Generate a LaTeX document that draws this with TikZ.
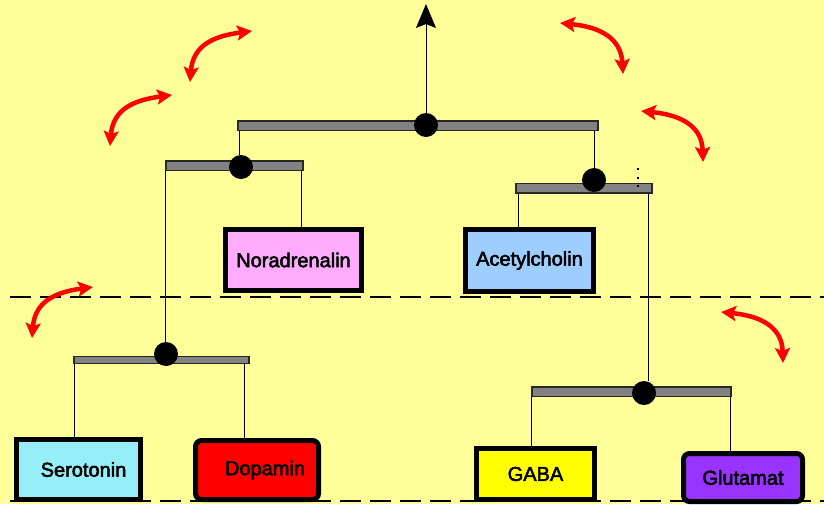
\documentclass[tikz,border=0pt]{standalone}
\usepackage{fontspec}
\setmainfont{Liberation Sans}
\newfontfamily\boxfont[FakeBold=2.5]{Liberation Sans}
\usetikzlibrary{arrows.meta}
\definecolor{bg}{RGB}{255,255,153}
\definecolor{cnor}{RGB}{255,172,255}
\definecolor{cace}{RGB}{158,206,255}
\definecolor{cser}{RGB}{150,238,248}
\definecolor{cdop}{RGB}{255,0,0}
\definecolor{cgaba}{RGB}{255,255,0}
\definecolor{cglu}{RGB}{153,51,255}
\definecolor{cbar}{RGB}{130,130,130}
\definecolor{cbarline}{RGB}{40,40,40}
\tikzset{
  bar/.style={rectangle,draw=cbarline,line width=1.5pt,fill=cbar,inner sep=0pt},
  junct/.style={circle,fill=black,inner sep=0pt,minimum size=24pt},
  tbox/.style={rectangle,draw=black,line width=5pt,inner sep=0pt,
    font=\boxfont\fontsize{20pt}{24pt}\selectfont},
  wire/.style={line width=1pt,black},
  sep/.style={line width=2pt,black,dash pattern=on 21pt off 9pt},
  swing/.style={line width=4.5pt,red,
    {Stealth[length=15pt,width=15pt,inset=3pt]}-{Stealth[length=15pt,width=15pt,inset=3pt]}},
  tick/.style={fill=black,inner sep=0pt,minimum size=2.5pt}
}
\begin{document}
\begin{tikzpicture}[x=1pt,y=-1pt]
\useasboundingbox (0,0) rectangle (824,504);
\fill[bg] (0,0) rectangle (824,504);

% separators
\coordinate (s1a) at (10,297);
\coordinate (s1b) at (824,297);
\coordinate (s2a) at (10,501);
\coordinate (s2b) at (824,501);
\draw[sep] (s1a) -- (s1b);
\draw[sep] (s2a) -- (s2b);

% bars
\node[bar,minimum width=360pt,minimum height=9.5pt] (tb) at (418,125.5) {};
\node[bar,minimum width=137pt,minimum height=9.5pt] (lb) at (234.5,165.5) {};
\node[bar,minimum width=136pt,minimum height=9.5pt] (rb) at (584,188) {};
\node[bar,minimum width=175pt,minimum height=7pt] (llb) at (161.5,360) {};
\node[bar,minimum width=199pt,minimum height=9.5pt] (lrb) at (631.5,391.5) {};

% boxes
\node[tbox,fill=cnor,minimum width=136pt,minimum height=61pt] (nor) at (293.5,260) {\raisebox{-2pt}{Noradrenalin}};
\node[tbox,fill=cace,minimum width=128pt,minimum height=62pt] (ace) at (529.5,260.5) {\raisebox{-1pt}{Acetylcholin}};
\node[tbox,fill=cser,minimum width=124pt,minimum height=60pt] (ser) at (78.5,469.5) {\hspace*{10pt}\raisebox{-2pt}{Serotonin}};
\node[tbox,fill=cdop,rounded corners=6pt,minimum width=123pt,minimum height=59pt] (dop) at (257,470) {\hspace*{16pt}Dopamin};
\node[tbox,fill=cgaba,minimum width=118pt,minimum height=51pt] (gaba) at (535.5,474) {GABA};
\node[tbox,fill=cglu,rounded corners=6pt,minimum width=119pt,minimum height=48pt] (glu) at (743,477.5) {Glutamat};

% junctions
\node[junct] (jt) at (426,125) {};
\node[junct] (jl) at (241,167) {};
\node[junct] (jr) at (594,180) {};
\node[junct] (jll) at (166,354) {};
\node[junct] (jlr) at (644,393) {};

% wires
\coordinate (top) at (426,4);
\draw[wire,-{Stealth[length=24pt,width=20pt,inset=4pt]}] (jt) -- (top);
\draw[wire] ([xshift=-2pt]jl.north) -- ([xshift=-2pt]jl.north |- tb.south);
\draw[wire] (jr.north) -- (jr.north |- tb.south);
\draw[wire] ([xshift=-1pt]jll.north) -- ([xshift=-1pt]jll.north |- lb.south);
\draw[wire] ([xshift=-2pt]lb.south east) -- ([xshift=-2pt]lb.south east |- nor.north);
\draw[wire] ([xshift=3pt]rb.south west) -- ([xshift=3pt]rb.south west |- ace.north);
\draw[wire] ([xshift=-4pt]rb.south east) -- ([xshift=-4pt]rb.south east |- jlr.north);
\draw[wire] ([xshift=1pt]llb.south west) -- ([xshift=1pt]llb.south west |- ser.north);
\draw[wire] ([xshift=-5pt]llb.south east) -- ([xshift=-5pt]llb.south east |- dop.north);
\draw[wire] ([xshift=0.5pt]lrb.south west) -- ([xshift=0.5pt]lrb.south west |- gaba.north);
\draw[wire] ([xshift=-1pt]lrb.south east) -- ([xshift=-1pt]lrb.south east |- glu.north);

% small dots
\node[tick] (d1) at (638,169) {};
\node[tick] (d2) at (638,178) {};
\node[tick] (d3) at (638,186) {};

% red swing arrows
\coordinate (a1) at (190,82);  \coordinate (a2) at (252,31);
\coordinate (b1) at (110,146); \coordinate (b2) at (172,95);
\coordinate (c1) at (560,23);  \coordinate (c2) at (623,74);
\coordinate (e1) at (641,111); \coordinate (e2) at (703,162);
\coordinate (f1) at (32,338);  \coordinate (f2) at (93,287);
\coordinate (g1) at (721,312); \coordinate (g2) at (783,363);
\draw[swing] (a1) .. controls (193,45) and (214,36) .. (a2);
\draw[swing] (b1) .. controls (113,109) and (134,100) .. (b2);
\draw[swing] (f1) .. controls (35,301) and (56,292) .. (f2);
\draw[swing] (c1) .. controls (600,27) and (621,38) .. (c2);
\draw[swing] (e1) .. controls (681,115) and (702,126) .. (e2);
\draw[swing] (g1) .. controls (761,316) and (782,327) .. (g2);
\end{tikzpicture}
\end{document}
